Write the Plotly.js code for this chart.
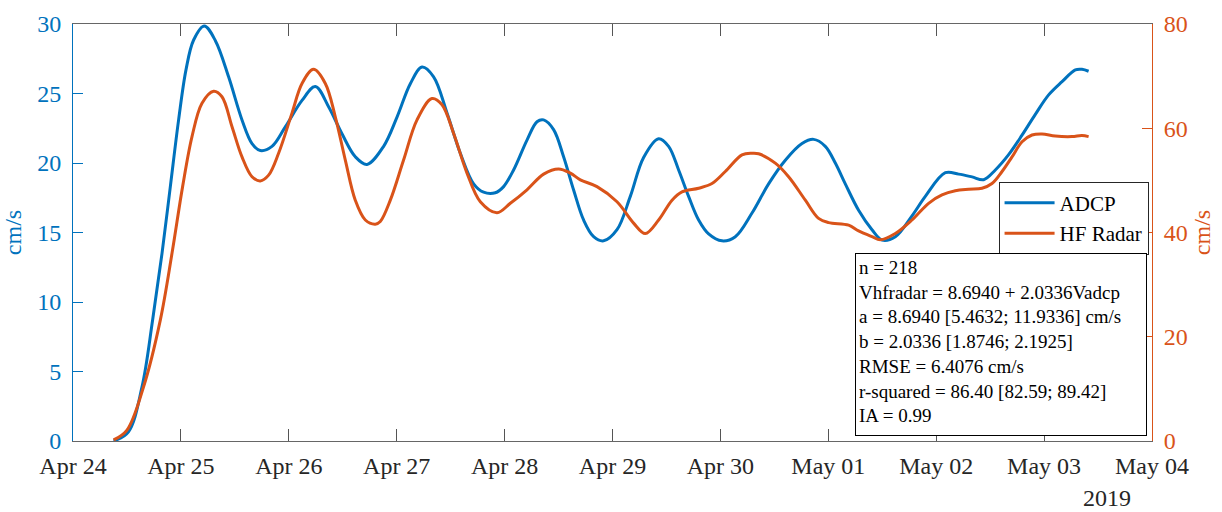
<!DOCTYPE html>
<html>
<head>
<meta charset="utf-8">
<script src="https://cdn.plot.ly/plotly-3.0.1.min.js"></script>
<style>html,body{margin:0;padding:0;background:#fff;}#chart{width:1222px;height:512px;}</style>
</head>
<body>
<div id="chart"></div>
<script>
// Hours since 2019-04-24 00:00
const adcpHours = [9.03,12.3,15.35,17.71,19.8,21.65,23.49,25.13,26.83,29.2,31.67,34.61,37.59,39.82,41.66,44.26,47.22,50.94,53.9,56.85,59.83,62.79,65.39,69.09,72.07,75.03,77.63,80.21,83.19,86.15,89.11,91.33,93.93,95.78,98.0,100.98,103.21,104.68,106.9,109.12,111.35,113.57,115.8,118.02,121.0,123.96,126.92,130.26,132.48,134.71,136.93,139.16,141.38,144.36,147.32,151.03,154.72,158.44,162.15,164.73,167.33,169.56,171.78,174.74,177.72,179.95,182.91,186.62,189.58,194.03,196.99,199.97,202.55,205.15,208.11,211.09,214.05,217.01,219.99,222.95,224.43,225.9];
const adcpSpeed = [0,0.65,3.9,8.7,13.5,18.3,23.1,26.7,28.85,29.86,28.8,26.2,23.1,21.4,20.9,21.2,22.6,24.5,25.5,24.05,22.1,20.45,19.9,21.2,23.3,25.7,26.9,26.2,23.6,20.7,18.5,17.9,17.86,18.3,19.5,21.65,22.97,23.1,22.4,20.45,18.06,15.9,14.7,14.4,15.2,17.6,20.4,21.75,21.2,19.5,17.6,15.9,14.9,14.4,14.7,16.4,18.5,20.2,21.4,21.7,21.2,20.0,18.5,16.6,15.2,14.46,14.7,16.2,17.6,19.3,19.2,19.0,18.8,19.5,20.6,22.0,23.5,24.9,25.85,26.7,26.74,26.6];
const radarHours = [9.03,12.01,15.7,19.42,22.02,24.38,26.47,28.69,31.27,33.14,35.37,37.59,39.82,41.66,43.51,45.73,48.71,50.94,53.52,56.12,58.34,60.57,62.79,65.02,67.24,68.35,70.58,73.53,76.52,79.85,82.08,84.66,87.64,90.6,94.31,97.27,100.98,104.68,108.01,110.62,112.84,116.55,121.0,124.69,127.3,130.26,133.24,135.46,139.16,142.13,145.09,148.81,151.03,152.5,156.21,159.17,162.89,165.84,168.07,172.52,174.74,177.72,179.57,182.91,186.62,190.31,193.29,196.25,199.21,202.19,204.41,206.64,208.86,211.09,213.31,215.54,218.49,222.21,224.43,225.9];
const radarSpeed = [0.2,2.1,10.4,23.2,36.0,48.8,58.4,64.8,67.1,66.05,60.3,54.5,50.7,49.9,51.0,55.2,62.9,68.6,71.3,68.6,62.2,53.9,46.2,42.4,41.6,42.1,46.2,53.9,61.6,65.7,64.5,59.0,51.4,45.9,43.8,45.6,48.2,51.2,52.2,51.4,50.1,48.8,45.9,41.8,39.8,42.4,46.2,47.8,48.5,49.4,51.7,54.9,55.2,55.1,53.3,50.7,46.2,42.7,41.9,41.4,40.3,39.2,38.6,39.8,42.4,45.6,47.2,48.0,48.3,48.5,49.4,51.7,54.5,57.4,58.7,58.9,58.5,58.4,58.6,58.4];
const xTickRange = ['2019-04-24', '2019-05-04'];
const seriesNames = ['ADCP', 'HF Radar'];
const statsLines = ['n = 218','Vhfradar = 8.6940 + 2.0336Vadcp','a = 8.6940 [5.4632; 11.9336] cm/s','b = 2.0336 [1.8746; 2.1925]','RMSE = 6.4076 cm/s','r-squared = 86.40 [82.59; 89.42]','IA = 0.99'];

const START = Date.UTC(2019, 3, 24);
function pad(n){return (n<10?'0':'')+n;}
function toStr(h){
  const d = new Date(START + Math.round(h*3600)*1000);
  return d.getUTCFullYear()+'-'+pad(d.getUTCMonth()+1)+'-'+pad(d.getUTCDate())+' '+pad(d.getUTCHours())+':'+pad(d.getUTCMinutes())+':'+pad(d.getUTCSeconds());
}

const BLUE = '#0072BD', ORANGE = '#D95319';
const FONT = 'Liberation Serif, Times New Roman, serif';

const traces = [
  {x: adcpHours.map(toStr), y: adcpSpeed, name: seriesNames[0], type: 'scatter', mode: 'lines',
   line: {color: BLUE, width: 3, shape: 'spline', smoothing: 1}, yaxis: 'y'},
  {x: radarHours.map(toStr), y: radarSpeed, name: seriesNames[1], type: 'scatter', mode: 'lines',
   line: {color: ORANGE, width: 3, shape: 'spline', smoothing: 1}, yaxis: 'y2'}
];

const layout = {
  width: 1222, height: 512,
  margin: {l: 73, r: 70, t: 24, b: 71},
  paper_bgcolor: '#fff', plot_bgcolor: '#fff',
  font: {family: FONT, size: 24, color: '#262626'},
  showlegend: true,
  legend: {x: 0.8578, y: 0.6218, xanchor: 'left', yanchor: 'top', bgcolor: '#fff',
           bordercolor: '#262626', borderwidth: 1, font: {family: FONT, size: 21, color: '#000'},
           tracegroupgap: 0, itemwidth: 50},
  xaxis: {type: 'date', range: xTickRange, tick0: xTickRange[0], dtick: 86400000, tickformat: '%b %d',
          showgrid: false, zeroline: false, showline: true, linecolor: '#666', linewidth: 1,
          mirror: 'ticks', ticks: 'inside', ticklen: 12, tickcolor: '#555', tickwidth: 1,
          tickfont: {family: FONT, size: 24, color: '#262626'}, ticklabelstandoff: 3},
  yaxis: {range: [0, 30], dtick: 5, showgrid: false, zeroline: false, showline: true,
          linecolor: BLUE, linewidth: 1, ticks: 'inside', ticklen: 10, tickcolor: BLUE,
          tickfont: {family: FONT, size: 24, color: BLUE}, ticklabelstandoff: 6,
          title: {text: 'cm/s', font: {family: FONT, size: 24, color: BLUE}, standoff: 8}},
  yaxis2: {range: [0, 80], dtick: 20, overlaying: 'y', side: 'right', showgrid: false, zeroline: false,
           showline: true, linecolor: ORANGE, linewidth: 1, ticks: 'inside', ticklen: 10, tickcolor: ORANGE,
           tickfont: {family: FONT, size: 24, color: ORANGE}, ticklabelstandoff: 6,
           title: {text: 'cm/s', font: {family: FONT, size: 24, color: ORANGE}, standoff: 6}},
  annotations: [
    {xref: 'paper', yref: 'paper', x: 0.7244, y: 0.4516, xanchor: 'left', yanchor: 'top',
     text: statsLines.join('<br>'), showarrow: false, align: 'left', valign: 'top',
     width: 284, height: 175, borderpad: 3, bordercolor: '#000', borderwidth: 1, bgcolor: '#fff',
     font: {family: FONT, size: 19, color: '#000'}},
    {xref: 'paper', yref: 'paper', x: 0.958, y: -0.137, xanchor: 'center', yanchor: 'middle',
     text: '2019', showarrow: false, font: {family: FONT, size: 24, color: '#262626'}}
  ]
};

Plotly.newPlot('chart', traces, layout, {displayModeBar: false, staticPlot: true});
</script>
</body>
</html>
